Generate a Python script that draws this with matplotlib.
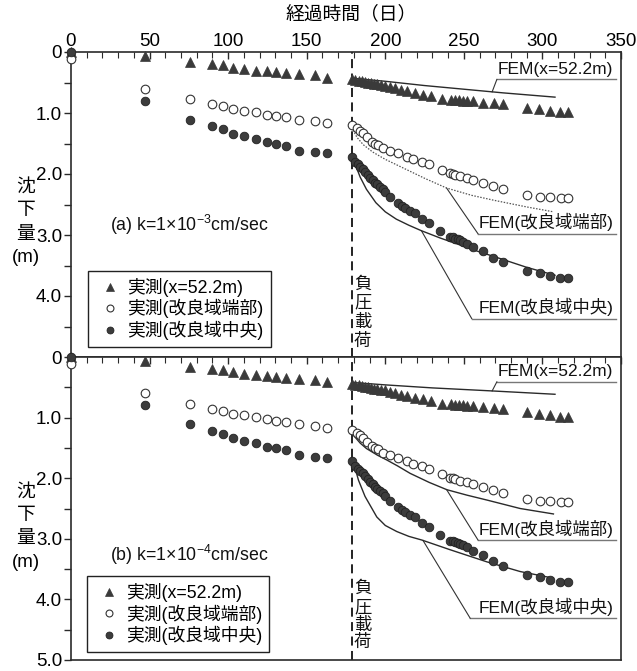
import numpy as np
import matplotlib
matplotlib.use("Agg")
import matplotlib.pyplot as plt
from matplotlib.ticker import MultipleLocator, FixedLocator, FuncFormatter

plt.rcParams['font.family'] = ['Liberation Sans', 'Noto Sans CJK JP']
plt.rcParams['mathtext.fontset'] = 'custom'
plt.rcParams['mathtext.rm'] = 'Liberation Sans'
plt.rcParams['mathtext.it'] = 'Liberation Sans:italic'

# ---------------- data ----------------
load_day = 178.6

tri_days = [0, 47, 75.7, 89.5, 96.5, 103, 110, 117.8, 124.5, 130.5, 136.6, 145, 155, 163,
            179, 181, 183, 185, 187, 189, 191, 193, 195, 197, 200, 203, 206, 210, 214, 219,
            224, 229, 236, 242, 244.5, 247, 249.5, 252, 256, 262, 269, 275, 290, 298, 305, 311, 316]
tri_vals = [0.0, 0.065, 0.16, 0.20, 0.22, 0.255, 0.285, 0.305, 0.315, 0.325, 0.34, 0.355, 0.375, 0.42,
            0.45, 0.46, 0.47, 0.48, 0.49, 0.50, 0.51, 0.52, 0.53, 0.54, 0.55, 0.57, 0.59, 0.62, 0.64, 0.67,
            0.70, 0.72, 0.77, 0.78, 0.785, 0.79, 0.80, 0.805, 0.81, 0.83, 0.84, 0.85, 0.91, 0.94, 0.96, 0.99, 0.99]

edge_days = [0, 47, 75.7, 89.5, 96.5, 103, 110, 117.8, 124.5, 130.5, 136.6, 145, 155, 163,
             179, 181.8, 184, 186, 188.5, 191.4, 193.5, 195.6, 198.8, 203, 208.4, 213.7, 217.9,
             223.2, 228.1, 236, 241.2, 243, 244.4, 247.6, 251.9, 256.1, 262, 268.4, 275.2, 290,
             298.5, 304.5, 311.7, 316.5]
edge_vals = [0.12, 0.60, 0.775, 0.85, 0.89, 0.94, 0.965, 0.99, 1.025, 1.05, 1.065, 1.11, 1.135, 1.165,
             1.20, 1.25, 1.29, 1.33, 1.40, 1.47, 1.50, 1.525, 1.58, 1.62, 1.66, 1.715, 1.76,
             1.80, 1.84, 1.93, 1.99, 2.00, 2.02, 2.04, 2.07, 2.10, 2.14, 2.20, 2.25, 2.34,
             2.38, 2.38, 2.40, 2.40]

center_days = [0, 47, 75.7, 89.5, 96.5, 103, 110, 117.8, 124.5, 130.5, 136.6, 145, 155, 163,
               179, 180.8, 182.5, 184, 185.5, 187.1, 188.7, 190.3, 192, 193.5, 195, 196.7, 198.3,
               199.9, 203, 208.4, 210.5, 212.6, 215.8, 219, 223.2, 227.5, 234.9, 241.2, 243, 244.4,
               246, 247.6, 249.5, 251.9, 256.1, 262, 268.8, 275.2, 290, 298.5, 305, 311.3, 316.5]
center_vals = [0.0, 0.80, 1.11, 1.22, 1.265, 1.34, 1.385, 1.425, 1.48, 1.505, 1.54, 1.615, 1.645, 1.66,
               1.72, 1.80, 1.84, 1.88, 1.92, 1.96, 2.01, 2.07, 2.10, 2.14, 2.17, 2.21, 2.25,
               2.29, 2.37, 2.48, 2.52, 2.56, 2.60, 2.64, 2.74, 2.81, 2.93, 3.03, 3.04, 3.06,
               3.07, 3.08, 3.11, 3.14, 3.20, 3.26, 3.37, 3.45, 3.59, 3.63, 3.68, 3.71, 3.71]

# FEM, panel (a) k=1e-3
fem_a_x_days = [179, 200, 225, 250, 275, 308]
fem_a_x_vals = [0.43, 0.48, 0.55, 0.61, 0.67, 0.74]
fem_a_edge_days = [179.5, 182, 186, 192, 200, 213.7, 225, 239, 255, 269, 290, 307]
fem_a_edge_vals = [1.28, 1.40, 1.52, 1.64, 1.76, 1.93, 2.07, 2.23, 2.35, 2.43, 2.54, 2.62]
fem_a_center_days = [179, 181, 184, 188, 194, 200, 207, 215, 223, 235, 245, 258, 270, 290, 308]
fem_a_center_vals = [1.72, 1.85, 2.05, 2.25, 2.47, 2.62, 2.74, 2.84, 2.93, 3.05, 3.14, 3.26, 3.36, 3.53, 3.66]

# FEM, panel (b) k=1e-4
fem_b_x_days = [179, 200, 230, 268, 308]
fem_b_x_vals = [0.42, 0.46, 0.51, 0.56, 0.615]
fem_b_edge_days = [179.7, 184, 188, 195, 201, 208, 215.8, 228, 239.2, 252, 264.6, 285.8, 307]
fem_b_edge_vals = [1.29, 1.42, 1.51, 1.62, 1.70, 1.80, 1.92, 2.07, 2.19, 2.28, 2.36, 2.50, 2.59]
fem_b_center_days = [179.7, 182.9, 187.1, 194.6, 200, 207.3, 215, 223.2, 241.2, 264.6, 285.8, 307]
fem_b_center_vals = [1.73, 2.03, 2.30, 2.64, 2.78, 2.88, 2.96, 3.02, 3.18, 3.38, 3.54, 3.65]

legend_labels = ['実測(x=52.2m)', '実測(改良域端部)', '実測(改良域中央)']
fem_labels = ['FEM(x=52.2m)', 'FEM(改良域端部)', 'FEM(改良域中央)']
panel_titles = [r'(a) k=1×10$^{-3}$cm/sec', r'(b) k=1×10$^{-4}$cm/sec']
xlabel = '経過時間（日）'
ylabel_chars = ['沈', '下', '量', '(m)']
load_chars = ['負', '圧', '載', '荷']

# ---------------- figure ----------------
W, H = 637, 671
fig = plt.figure(figsize=(W / 100, H / 100), dpi=100)
ax1 = fig.add_axes([71 / W, 1 - 357 / H, 550 / W, 305 / H])
ax2 = fig.add_axes([71 / W, 1 - 660 / H, 550 / W, 303 / H])

dark = '#2a2a2a'
tri_c = '#3a3a3a'
fill_c = '#3c3c3c'


def fmt(v, pos):
    return '0' if abs(v) < 1e-9 else f'{v:.1f}'


panels = [
    dict(ax=ax1, fx=(fem_a_x_days, fem_a_x_vals), fe=(fem_a_edge_days, fem_a_edge_vals),
         fc=(fem_a_center_days, fem_a_center_vals), edge_style=(0, (1.2, 1.2)), edge_lw=0.9,
         edge_color='#555555',
         yt=[0, 1, 2, 3, 4], title=panel_titles[0], title_y=2.84,
         lab_y=[(0.45, 271, 268), (2.98, 259, 239), (4.37, 255, 223)],
         leg_anchor=(0.031, 0.033), load_y=[3.80, 4.11, 4.42, 4.73]),
    dict(ax=ax2, fx=(fem_b_x_days, fem_b_x_vals), fe=(fem_b_edge_days, fem_b_edge_vals),
         fc=(fem_b_center_days, fem_b_center_vals), edge_style='-', edge_lw=1.0,
         edge_color=dark,
         yt=[0, 1, 2, 3, 4, 5], title=panel_titles[1], title_y=3.27,
         lab_y=[(0.41, 271, 268), (3.02, 259, 239), (4.31, 254, 224)],
         leg_anchor=(0.029, 0.026), load_y=[3.82, 4.13, 4.42, 4.70]),
]

for i, p in enumerate(panels):
    ax = p['ax']
    ax.set_xlim(0, 350)
    ax.set_ylim(5, 0)

    # measured
    h1, = ax.plot(tri_days, tri_vals, ls='none', marker='^', ms=6.8, mfc=tri_c, mec=tri_c,
                  mew=0.5, clip_on=False, zorder=4, label=legend_labels[0])
    h2, = ax.plot(edge_days, edge_vals, ls='none', marker='o', ms=6.2, mfc='white', mec='#333333',
                  mew=0.8, clip_on=False, zorder=4, label=legend_labels[1])
    h3, = ax.plot(center_days, center_vals, ls='none', marker='o', ms=6.2, mfc=fill_c, mec='#222222',
                  mew=0.6, clip_on=False, zorder=4, label=legend_labels[2])

    # FEM
    ax.plot(*p['fx'], color=dark, lw=1.0, zorder=3)
    ax.plot(*p['fe'], color=p['edge_color'], lw=p['edge_lw'], ls=p['edge_style'], zorder=3)
    ax.plot(*p['fc'], color=dark, lw=1.0, zorder=3)

    # FEM labels with underline and leader
    curves = [p['fx'], p['fe'], p['fc']]
    for (uy, ux0, lead_day), lab, cv in zip(p['lab_y'], fem_labels, curves):
        ax.text(345, uy - 0.09, lab, ha='right', va='baseline', fontsize=12.5, color='#111111')
        ax.plot([ux0, 347], [uy, uy], color='#777777', lw=1.0)
        cy = np.interp(lead_day, cv[0], cv[1])
        ax.plot([ux0, lead_day], [uy, cy], color='#333333', lw=0.8)

    # loading line
    ax.axvline(load_day, color='#111111', lw=1.3, ls=(0, (5, 3)), zorder=2)
    for ch, yy in zip(load_chars, p['load_y']):
        ax.text(load_day + 7, yy, ch, ha='center', va='center', fontsize=12.5, color='#111111')

    ax.text(25, p['title_y'], p['title'], ha='left', va='center', fontsize=12.8, color='#111111')

    # ticks
    ax.xaxis.set_major_locator(MultipleLocator(50))
    ax.xaxis.set_minor_locator(MultipleLocator(10))
    ax.tick_params(axis='x', which='both', direction='in', top=True, bottom=False,
                   labeltop=(i == 0), labelbottom=False, color=dark)
    ax.tick_params(axis='x', which='major', length=5, width=1.0, labelsize=13.5, pad=1.5)
    ax.tick_params(axis='x', which='minor', length=4, width=0.8)
    ax.yaxis.set_major_locator(FixedLocator(p['yt']))
    ax.yaxis.set_minor_locator(FixedLocator([0.5, 1.5, 2.5, 3.5, 4.5]))
    ax.yaxis.set_major_formatter(FuncFormatter(fmt))
    ax.tick_params(axis='y', which='both', direction='out', left=True, right=False, color=dark)
    ax.tick_params(axis='y', which='major', length=5, width=1.0, labelsize=13.5, pad=1.5)
    ax.tick_params(axis='y', which='minor', length=5, width=1.0)
    for s in ax.spines.values():
        s.set_linewidth(1.2)
        s.set_color(dark)

    leg = ax.legend(handles=[h1, h2, h3], loc='lower left', bbox_to_anchor=p['leg_anchor'],
                    borderaxespad=0, fontsize=12.8, frameon=True, fancybox=False,
                    edgecolor='#222222', framealpha=1, handlelength=1.7, handletextpad=0.1,
                    labelspacing=0.12, borderpad=0.4, markerscale=0.8)
    leg.get_frame().set_linewidth(1.0)

# axis titles
fig.text(351 / W, 1 - 14 / H, xlabel, ha='center', va='center', fontsize=13.5)
for base in (187, 492):
    for k, ch in enumerate(ylabel_chars):
        fig.text(26 / W, 1 - (base + 23.5 * k) / H, ch, ha='center', va='center', fontsize=13.5)

fig.savefig('out.png', dpi=100)
